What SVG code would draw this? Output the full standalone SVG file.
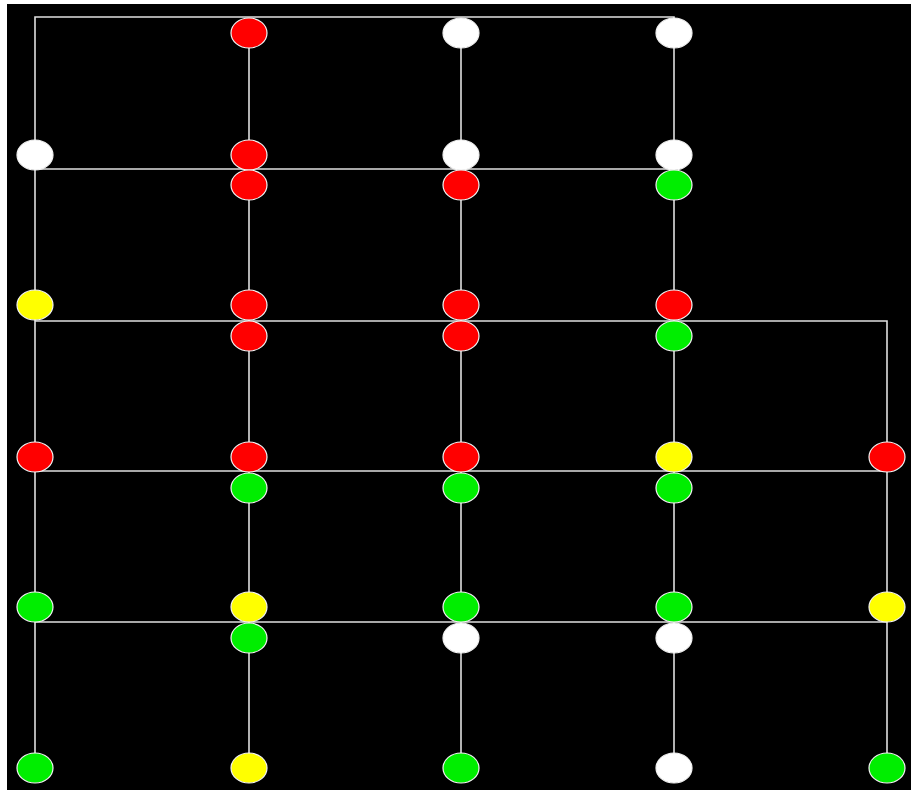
<svg xmlns="http://www.w3.org/2000/svg" width="911" height="796" viewBox="0 0 911 796">
<style>
.ln{stroke:#e0e0e0;stroke-width:1.6;fill:none}
.n{stroke:#f4f4f4;stroke-width:1.2}
.r{fill:#ff0000}.g{fill:#00ee00}.y{fill:#ffff00}.w{fill:#ffffff}
</style>
<rect x="0" y="0" width="911" height="796" fill="#ffffff"/>
<rect x="7" y="4" width="904" height="786" fill="#000000"/>
<g id="connectors">
<polyline class="ln" points="674,33 674,17 35,17 35,768"/>
<line class="ln" x1="35" y1="169" x2="674" y2="169"/>
<polyline class="ln" points="35,321 887,321 887,768"/>
<line class="ln" x1="35" y1="471" x2="887" y2="471"/>
<line class="ln" x1="35" y1="622" x2="887" y2="622"/>
<line class="ln" x1="249" y1="33" x2="249" y2="768"/>
<line class="ln" x1="461" y1="33" x2="461" y2="768"/>
<line class="ln" x1="674" y1="33" x2="674" y2="768"/>
</g>
<g id="n1"><ellipse class="n r" cx="249" cy="33" rx="18" ry="15"/></g>
<g id="n2"><ellipse class="n w" cx="461" cy="33" rx="18" ry="15"/></g>
<g id="n3"><ellipse class="n w" cx="674" cy="33" rx="18" ry="15"/></g>
<g id="n4"><ellipse class="n w" cx="35" cy="155" rx="18" ry="15"/></g>
<g id="n5"><ellipse class="n r" cx="249" cy="155" rx="18" ry="15"/></g>
<g id="n6"><ellipse class="n w" cx="461" cy="155" rx="18" ry="15"/></g>
<g id="n7"><ellipse class="n w" cx="674" cy="155" rx="18" ry="15"/></g>
<g id="n8"><ellipse class="n r" cx="249" cy="185" rx="18" ry="15"/></g>
<g id="n9"><ellipse class="n r" cx="461" cy="185" rx="18" ry="15"/></g>
<g id="n10"><ellipse class="n g" cx="674" cy="185" rx="18" ry="15"/></g>
<g id="n11"><ellipse class="n y" cx="35" cy="305" rx="18" ry="15"/></g>
<g id="n12"><ellipse class="n r" cx="249" cy="305" rx="18" ry="15"/></g>
<g id="n13"><ellipse class="n r" cx="461" cy="305" rx="18" ry="15"/></g>
<g id="n14"><ellipse class="n r" cx="674" cy="305" rx="18" ry="15"/></g>
<g id="n15"><ellipse class="n r" cx="249" cy="336" rx="18" ry="15"/></g>
<g id="n16"><ellipse class="n r" cx="461" cy="336" rx="18" ry="15"/></g>
<g id="n17"><ellipse class="n g" cx="674" cy="336" rx="18" ry="15"/></g>
<g id="n18"><ellipse class="n r" cx="35" cy="457" rx="18" ry="15"/></g>
<g id="n19"><ellipse class="n r" cx="249" cy="457" rx="18" ry="15"/></g>
<g id="n20"><ellipse class="n r" cx="461" cy="457" rx="18" ry="15"/></g>
<g id="n21"><ellipse class="n y" cx="674" cy="457" rx="18" ry="15"/></g>
<g id="n22"><ellipse class="n r" cx="887" cy="457" rx="18" ry="15"/></g>
<g id="n23"><ellipse class="n g" cx="249" cy="488" rx="18" ry="15"/></g>
<g id="n24"><ellipse class="n g" cx="461" cy="488" rx="18" ry="15"/></g>
<g id="n25"><ellipse class="n g" cx="674" cy="488" rx="18" ry="15"/></g>
<g id="n26"><ellipse class="n g" cx="35" cy="607" rx="18" ry="15"/></g>
<g id="n27"><ellipse class="n y" cx="249" cy="607" rx="18" ry="15"/></g>
<g id="n28"><ellipse class="n g" cx="461" cy="607" rx="18" ry="15"/></g>
<g id="n29"><ellipse class="n g" cx="674" cy="607" rx="18" ry="15"/></g>
<g id="n30"><ellipse class="n y" cx="887" cy="607" rx="18" ry="15"/></g>
<g id="n31"><ellipse class="n g" cx="249" cy="638" rx="18" ry="15"/></g>
<g id="n32"><ellipse class="n w" cx="461" cy="638" rx="18" ry="15"/></g>
<g id="n33"><ellipse class="n w" cx="674" cy="638" rx="18" ry="15"/></g>
<g id="n34"><ellipse class="n g" cx="35" cy="768" rx="18" ry="15"/></g>
<g id="n35"><ellipse class="n y" cx="249" cy="768" rx="18" ry="15"/></g>
<g id="n36"><ellipse class="n g" cx="461" cy="768" rx="18" ry="15"/></g>
<g id="n37"><ellipse class="n w" cx="674" cy="768" rx="18" ry="15"/></g>
<g id="n38"><ellipse class="n g" cx="887" cy="768" rx="18" ry="15"/></g>
</svg>
